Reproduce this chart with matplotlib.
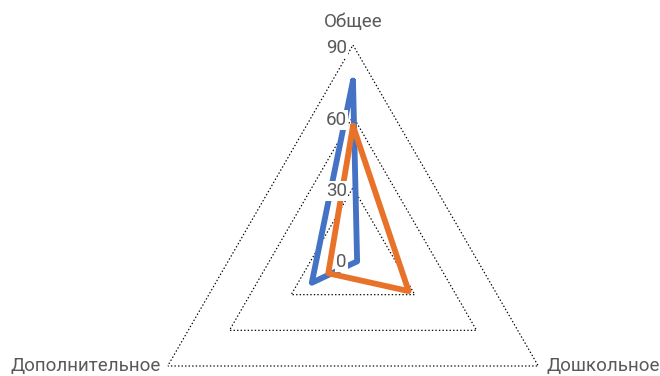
import numpy as np
import matplotlib
matplotlib.use("Agg")
import matplotlib.pyplot as plt

plt.rcParams['font.family'] = ['Roboto', 'DejaVu Sans']

categories = ["Общее", "Дошкольное", "Дополнительное"]
series_blue = [75, 2, 20]
series_orange = [56, 27, 12]
levels = [0, 30, 60, 90]

gray = '#595959'
blue = '#4472C4'
orange = '#E8722A'

fig = plt.figure(figsize=(6.6, 3.76), dpi=100)
# polar axes placed so that the center sits at (353, 259) px, radius 214 px
cx, cy, R = 353, 259, 214
ax = fig.add_axes([(cx - R) / 660, (376 - cy - R) / 376, 2 * R / 660, 2 * R / 376],
                  projection='polar')
ax.set_theta_zero_location('N')
ax.set_theta_direction(-1)
ax.set_ylim(0, 90)
ax.grid(False)
ax.spines['polar'].set_visible(False)
ax.set_xticks([])
ax.set_yticks([])
ax.patch.set_alpha(0)

theta = np.arange(len(categories)) * 2 * np.pi / len(categories)
theta_c = np.append(theta, theta[0])

# triangular grid
for lv in levels[1:]:
    ax.plot(theta_c, [lv] * 4, color='black', lw=0.85, ls=(0, (1.2, 1.8)), zorder=1)

for vals, col in [(series_blue, blue), (series_orange, orange)]:
    v = list(vals) + [vals[0]]
    ax.plot(theta_c, v, color=col, lw=4.2, solid_joinstyle='round',
            solid_capstyle='round', zorder=3)

# radial tick labels
for lv in levels:
    ax.annotate(str(lv), xy=(0, lv), xytext=(-4.5, -2.5), textcoords='offset points',
                ha='right', va='center', fontsize=13.5, color=gray, zorder=5,
                bbox=dict(boxstyle='square,pad=0.05', fc='white', ec='none'))

# category labels
offsets = [((0, 10), 'center', 'bottom'), ((6, 0), 'left', 'center'), ((-5, 0), 'right', 'center')]
for t, name, (off, ha, va) in zip(theta, categories, offsets):
    ax.annotate(name, xy=(t, 90), xytext=off, textcoords='offset points',
                ha=ha, va=va, fontsize=13.5, color=gray, annotation_clip=False)

fig.savefig('out.png', dpi=100)
